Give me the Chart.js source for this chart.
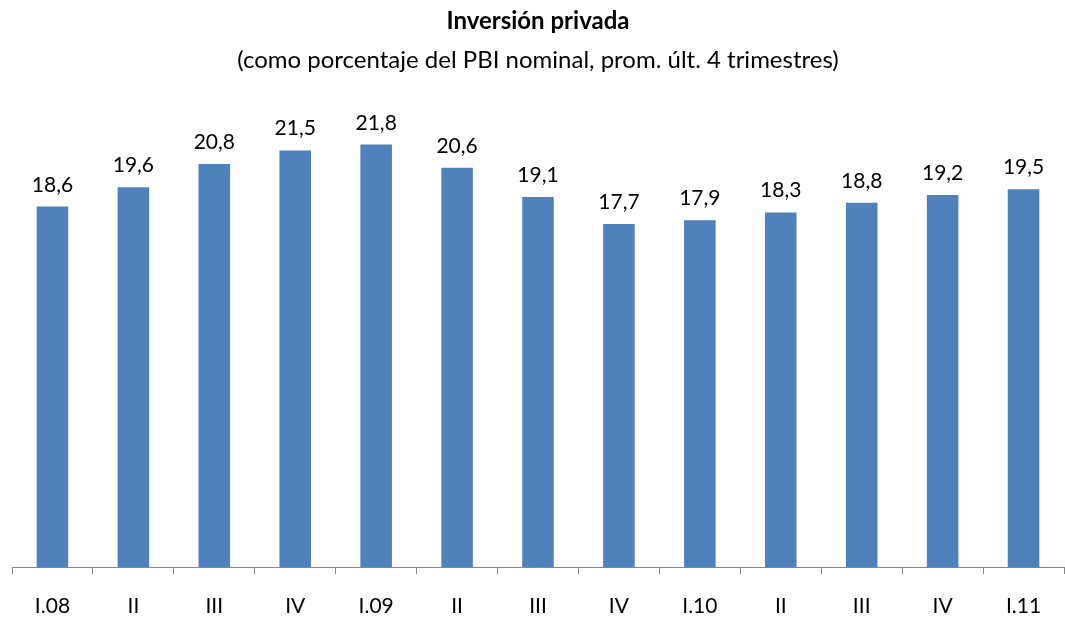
<!DOCTYPE html>
<html>
<head>
<meta charset="utf-8">
<script src="https://cdn.jsdelivr.net/npm/chart.js@4/dist/chart.umd.min.js"></script>
<style>
  html, body { margin: 0; padding: 0; background: #fff; }
  #wrap { width: 1065px; height: 620px; position: relative; }
</style>
</head>
<body>
<div id="wrap"><canvas id="myChart"></canvas></div>
<script>
const categories = ['I.08', 'II', 'III', 'IV', 'I.09', 'II', 'III', 'IV', 'I.10', 'II', 'III', 'IV', 'I.11'];
const inversion = [18.6, 19.6, 20.8, 21.5, 21.8, 20.6, 19.1, 17.7, 17.9, 18.3, 18.8, 19.2, 19.5];

const fontFamily = 'Lato, "Open Sans", sans-serif';

// etiquetas de valor encima de cada barra
const barLabels = {
    id: 'barLabels',
    afterDatasetsDraw(chart) {
        const c = chart.ctx;
        const meta = chart.getDatasetMeta(0);
        c.save();
        c.font = '21px ' + fontFamily;
        c.fillStyle = '#000';
        c.textAlign = 'center';
        c.textBaseline = 'alphabetic';
        meta.data.forEach((bar, i) => {
            const txt = inversion[i].toFixed(1).replace('.', ',');
            c.fillText(txt, bar.x, bar.y - 15);
        });
        c.restore();
    }
};

const ctx = document.getElementById('myChart');

new Chart(ctx, {
    type: 'bar',
    data: {
        labels: categories,
        datasets: [{
            label: 'Inversión privada',
            data: inversion,
            backgroundColor: '#4F81BD',
            barPercentage: 0.39,
            categoryPercentage: 1
        }]
    },
    options: {
        responsive: true,
        maintainAspectRatio: false,
        animation: false,
        layout: {
            padding: { left: 12, right: 1, top: 0, bottom: 0 }
        },
        plugins: {
            legend: { display: false },
            tooltip: { enabled: false },
            title: {
                display: true,
                text: 'Inversión privada',
                color: '#000',
                font: { family: fontFamily, size: 24, weight: 'bold', lineHeight: 1.2 },
                padding: { top: 7, bottom: 10 }
            },
            subtitle: {
                display: true,
                text: '(como porcentaje del PBI nominal, prom. últ. 4 trimestres)',
                color: '#000',
                font: { family: fontFamily, size: 24, lineHeight: 1.2 },
                padding: { top: 0, bottom: 8 }
            }
        },
        scales: {
            x: {
                afterFit(scale) { scale.height = 53; },
                border: { display: true, color: '#868686', width: 1 },
                grid: {
                    drawOnChartArea: false,
                    drawTicks: true,
                    tickLength: 7,
                    color: '#868686'
                },
                ticks: {
                    color: '#000',
                    padding: 20,
                    font: { family: fontFamily, size: 21 },
                    maxRotation: 0
                }
            },
            y: {
                display: false,
                min: 0,
                max: 25
            }
        }
    },
    plugins: [barLabels]
});
</script>
</body>
</html>
